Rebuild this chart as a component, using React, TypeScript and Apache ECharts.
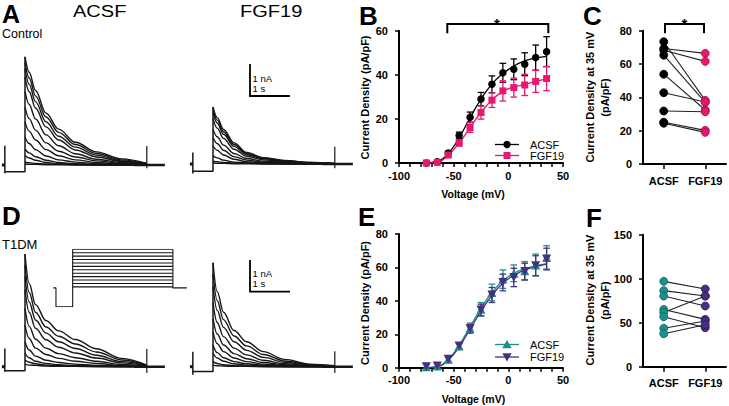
import React, { useEffect, useRef } from 'react';
import * as echarts from 'echarts';

const FONT = "'Liberation Sans', Arial, Helvetica, sans-serif";
const INK = '#161616';
const PINK = '#e8176f';
const TEAL = '#1d8f8b';
const PURPLE = '#46307f';

// ---------- Current traces (time in s, current in nA) ----------
const T = [0, 0.1, 0.25, 0.5, 0.8, 1.2, 1.7, 2.3, 2.9];

const A_ACSF_SWEEPS = [
  [3.38, 2.9, 2.33, 1.62, 1.12, 0.71, 0.41, 0.19, 0.05],
  [3.2, 2.72, 2.16, 1.5, 1.02, 0.64, 0.36, 0.16, 0.04],
  [3.0, 2.52, 1.98, 1.35, 0.9, 0.56, 0.31, 0.13, 0.04],
  [2.75, 2.29, 1.78, 1.19, 0.78, 0.47, 0.25, 0.11, 0.03],
  [2.3, 1.89, 1.44, 0.94, 0.6, 0.35, 0.18, 0.08, 0.02],
  [1.81, 1.45, 1.09, 0.69, 0.43, 0.25, 0.13, 0.05, 0.02],
  [1.34, 1.06, 0.78, 0.48, 0.29, 0.16, 0.08, 0.03, 0.01],
  [0.87, 0.67, 0.48, 0.28, 0.16, 0.09, 0.04, 0.02, 0.01],
  [0.5, 0.38, 0.26, 0.15, 0.08, 0.04, 0.02, 0.01, 0],
  [0.3, 0.22, 0.15, 0.08, 0.04, 0.02, 0.01, 0, 0],
  [0.1, 0.07, 0.05, 0.03, 0.02, 0.01, 0, 0, 0],
  [0.03, 0.02, 0.02, 0.01, 0.01, 0, 0, 0, 0],
];
const A_FGF_SWEEPS = [
  [1.78, 1.45, 1.08, 0.66, 0.36, 0.2, 0.11, 0.05, 0.02],
  [1.7, 1.37, 1.01, 0.61, 0.33, 0.18, 0.1, 0.05, 0.02],
  [1.6, 1.28, 0.93, 0.55, 0.29, 0.16, 0.08, 0.04, 0.01],
  [1.41, 1.12, 0.8, 0.46, 0.24, 0.13, 0.07, 0.03, 0.01],
  [1.09, 0.85, 0.59, 0.33, 0.17, 0.09, 0.05, 0.02, 0.01],
  [0.83, 0.64, 0.43, 0.23, 0.12, 0.06, 0.03, 0.01, 0],
  [0.57, 0.43, 0.28, 0.15, 0.07, 0.04, 0.02, 0.01, 0],
  [0.26, 0.19, 0.12, 0.06, 0.03, 0.02, 0.01, 0, 0],
  [0.1, 0.07, 0.05, 0.03, 0.02, 0.01, 0, 0, 0],
  [0.03, 0.02, 0.02, 0.01, 0.01, 0, 0, 0, 0],
];
const D_ACSF_SWEEPS = [
  [3.52, 2.6, 1.94, 1.44, 1.12, 0.85, 0.56, 0.26, 0.05],
  [3.18, 2.32, 1.7, 1.24, 0.95, 0.71, 0.46, 0.21, 0.04],
  [2.81, 2.02, 1.46, 1.05, 0.78, 0.57, 0.36, 0.16, 0.03],
  [2.4, 1.7, 1.2, 0.84, 0.61, 0.43, 0.27, 0.12, 0.03],
  [1.82, 1.26, 0.86, 0.58, 0.41, 0.28, 0.17, 0.07, 0.02],
  [1.3, 0.88, 0.58, 0.38, 0.26, 0.17, 0.1, 0.04, 0.01],
  [0.78, 0.52, 0.33, 0.2, 0.13, 0.08, 0.04, 0.02, 0.01],
  [0.42, 0.28, 0.17, 0.1, 0.06, 0.04, 0.02, 0.01, 0],
  [0.21, 0.14, 0.09, 0.05, 0.03, 0.02, 0.01, 0, 0],
  [0.08, 0.05, 0.04, 0.02, 0.01, 0.01, 0, 0, 0],
];
const D_FGF_SWEEPS = [
  [3.25, 2.35, 1.7, 1.13, 0.78, 0.47, 0.23, 0.08, 0.03],
  [2.9, 2.07, 1.47, 0.96, 0.65, 0.38, 0.18, 0.06, 0.02],
  [2.5, 1.76, 1.23, 0.78, 0.51, 0.29, 0.14, 0.05, 0.02],
  [2.0, 1.38, 0.94, 0.58, 0.37, 0.2, 0.09, 0.03, 0.01],
  [1.51, 1.02, 0.68, 0.41, 0.25, 0.13, 0.06, 0.02, 0.01],
  [1.09, 0.72, 0.47, 0.27, 0.16, 0.08, 0.04, 0.01, 0],
  [0.68, 0.44, 0.28, 0.16, 0.09, 0.05, 0.02, 0.01, 0],
  [0.42, 0.27, 0.17, 0.09, 0.05, 0.03, 0.01, 0, 0],
  [0.16, 0.1, 0.06, 0.03, 0.02, 0.01, 0, 0, 0],
  [0.05, 0.03, 0.02, 0.01, 0.01, 0, 0, 0, 0],
];
// [prepulse level, transient up, transient down, end transient up, end transient down] (nA)
const A_ACSF_STEPS = [-0.21, 0.6, -0.26, 0.59, -0.1];
const A_FGF_STEPS = [-0.23, 0.36, -0.3, 0.54, -0.13];
const D_ACSF_STEPS = [-0.125, 0.57, -0.16, 0.55, -0.2];
const D_FGF_STEPS = [-0.15, 0.47, -0.25, 0.48, -0.2];

// voltage protocol (mV)
const PROTO_HOLD = -78;
const PROTO_PRE = -133;
const PROTO_STEPS = [-75, -65, -55, -45, -35, -25, -15, -5, 5, 15, 25, 35];

// ---------- I-V curves ----------
const VOLT = [-75, -65, -55, -45, -35, -25, -15, -5, 5, 15, 25, 35];
const B_ACSF_MEAN = [0, 0.6, 4.5, 12.5, 20.8, 29, 35.7, 40.9, 42.5, 44.8, 47.8, 50.5];
const B_ACSF_SEM = [0.3, 0.4, 0.8, 1.5, 2.3, 3, 3.8, 4.3, 4.7, 5.2, 5.7, 6.8];
const B_FGF_MEAN = [0, 0.3, 3.6, 9, 16.1, 22.9, 28.5, 32.7, 34.2, 35.4, 37, 38.3];
const B_FGF_SEM = [0.2, 0.3, 0.7, 1.2, 2.2, 3, 3.3, 4.6, 4.3, 4.8, 5, 5.5];
const B_ACSF_FIT = [0, 0.8, 4.3, 11.5, 20.5, 29, 35.8, 40.5, 44, 46.3, 47.6, 48.4];
const B_FGF_FIT = [0, 0.3, 3.6, 9, 16.1, 22.9, 28.5, 32.5, 34.4, 35.6, 37, 38.3];

const E_ACSF_MEAN = [0.5, 1, 5, 13, 23.7, 35, 45, 53, 56.5, 58, 61.5, 66];
const E_ACSF_SEM = [2, 1.5, 1.5, 1.8, 3, 4, 5, 5.5, 5, 5.5, 6.5, 7];
const E_FGF_MEAN = [0.5, 1, 5, 13, 23.3, 34.5, 43.5, 51, 54, 57.5, 61, 65];
const E_FGF_SEM = [2, 1.5, 1.5, 1.8, 2.5, 3.5, 4.5, 5, 5.5, 5, 6, 6.5];
const E_ACSF_FIT = [0, 0.8, 5, 13.5, 24.5, 35.5, 45, 52, 56.5, 59.3, 61, 62.3];
const E_FGF_FIT = [0, 0.6, 4.5, 12.5, 23, 33.8, 43.3, 50.5, 55.2, 58.4, 60.5, 62];

// ---------- paired values at 35 mV ----------
const GROUPS = ['ACSF', 'FGF19'];
const C_ACSF = [73.4, 69.3, 68.3, 65.3, 53.9, 42.8, 31.8, 25.1, 24.5];
const C_FGF = [38.2, 66.4, 61.6, 37.0, 32.4, 37.2, 31.4, 20.2, 19.0];
const F_ACSF = [97, 86.4, 80.3, 65, 61.7, 56.8, 43.6, 37.5];
const F_FGF = [88.3, 80.3, 69, 53.8, 80.3, 44.3, 51.9, 47.7];

const zip = (xs: number[], ys: number[]) => xs.map((x, i) => [x, ys[i]]);

function traceSeries(gi: number, sweeps: number[][], steps: number[]) {
  const [pre, up1, dn1, up2, dn2] = steps;
  const peak = Math.max(...sweeps.map((s) => s[0]));
  const base = { type: 'line', xAxisIndex: gi, yAxisIndex: gi, symbol: 'none', silent: true };
  const out: any[] = [
    { ...base, data: [[-0.55, 0], [-0.48, 0]], lineStyle: { color: INK, width: 3 } },
    {
      ...base,
      data: [[-0.48, up1], [-0.48, dn1], [-0.48, pre], [0, pre], [0, peak]],
      lineStyle: { color: INK, width: 1.5 },
    },
  ];
  sweeps.forEach((s) => {
    out.push({
      ...base,
      data: zip(T, s),
      smooth: 0.35,
      smoothMonotone: 'x',
      lineStyle: { color: INK, width: 1.4 },
    });
  });
  out.push({ ...base, data: [[2.6, 0], [3.33, 0]], lineStyle: { color: INK, width: 2.6 } });
  out.push({ ...base, data: [[2.9, up2], [2.9, dn2]], lineStyle: { color: INK, width: 1.2 } });
  return out;
}

const errRender = (color: string) => (params: any, api: any) => {
  const x = api.value(0);
  const y = api.value(1);
  const e = api.value(2);
  const hi = api.coord([x, y + e]);
  const lo = api.coord([x, y - e]);
  const w = 3.3;
  const style = { stroke: color, lineWidth: 1.3 };
  return {
    type: 'group',
    children: [
      { type: 'line', shape: { x1: hi[0], y1: hi[1], x2: lo[0], y2: lo[1] }, style },
      { type: 'line', shape: { x1: hi[0] - w, y1: hi[1], x2: hi[0] + w, y2: hi[1] }, style },
      { type: 'line', shape: { x1: lo[0] - w, y1: lo[1], x2: lo[0] + w, y2: lo[1] }, style },
    ],
  };
};

function ivSeries(gi: number, mean: number[], sem: number[], fit: number[], color: string, symbol: string, size: number, rotate = 0) {
  return [
    {
      type: 'line', xAxisIndex: gi, yAxisIndex: gi, data: zip(VOLT, fit), smooth: true,
      symbol: 'none', lineStyle: { color, width: 1.3 }, z: 2, silent: true,
    },
    {
      type: 'custom', xAxisIndex: gi, yAxisIndex: gi, renderItem: errRender(color),
      data: VOLT.map((v, i) => [v, mean[i], sem[i]]), encode: { x: 0, y: 1 }, z: 3, silent: true,
    },
    {
      type: 'scatter', xAxisIndex: gi, yAxisIndex: gi, data: zip(VOLT, mean), symbol, symbolSize: size,
      symbolRotate: rotate, itemStyle: { color, opacity: 1 }, z: 4, clip: false, silent: true,
    },
  ];
}

function pairSeries(gi: number, a: number[], f: number[], ca: string, cf: string, ba: string, bf: string) {
  const out: any[] = a.map((v, i) => ({
    type: 'line', xAxisIndex: gi, yAxisIndex: gi, data: [v, f[i]], symbol: 'none',
    lineStyle: { color: '#222', width: 1.1 }, z: 2, silent: true,
  }));
  out.push({
    type: 'scatter', xAxisIndex: gi, yAxisIndex: gi, data: a.map((v) => [0, v]), symbolSize: 8,
    itemStyle: { color: ca, borderColor: ba, borderWidth: 0.8, opacity: 1 }, z: 3, clip: false, silent: true,
  });
  out.push({
    type: 'scatter', xAxisIndex: gi, yAxisIndex: gi, data: f.map((v) => [1, v]), symbolSize: 8,
    itemStyle: { color: cf, borderColor: bf, borderWidth: 0.8, opacity: 1 }, z: 3, clip: false, silent: true,
  });
  return out;
}

const axisLine = { show: true, onZero: false, lineStyle: { color: '#000', width: 2 } };
const axisTick = { show: true, length: 4, lineStyle: { color: '#000', width: 1.5 } };
const lab = (margin: number, extra: any = {}) => ({
  fontFamily: FONT, fontWeight: 'bold', fontSize: 11, color: '#000', margin, ...extra,
});

function hidden(gi: number, min: number, max: number) {
  return { gridIndex: gi, type: 'value', min, max, show: false, splitLine: { show: false } };
}

function txt(text: string, x: number, y: number, size: number, weight = 'normal', align = 'left', extra: any = {}) {
  const style: any = { text, fontSize: size, fontWeight: weight, fontFamily: FONT, fill: '#000', align, verticalAlign: 'middle' };
  return { type: 'text', x, y, silent: true, ...extra, style };
}

function buildOption() {
  const ivX = (gi: number) => ({
    gridIndex: gi, type: 'value', min: -100, max: 50, interval: 10,
    axisLine, axisTick, splitLine: { show: false },
    axisLabel: { ...lab(7), formatter: (v: number) => (v % 50 === 0 ? String(v) : '') },
  });
  const ivY = (gi: number, max: number, interval: number) => ({
    gridIndex: gi, type: 'value', min: 0, max, interval, axisLine, axisTick,
    splitLine: { show: false }, axisLabel: lab(11),
  });
  const catX = (gi: number) => ({
    gridIndex: gi, type: 'category', data: GROUPS, boundaryGap: true, axisLine,
    axisTick: { ...axisTick, alignWithLabel: true, length: 5 }, axisLabel: lab(11, { interval: 0 }),
  });

  const grid = [
    { left: 1.9, top: 49.8, width: 163.8, height: 128 },
    { left: 189.9, top: 48.8, width: 163.8, height: 128 },
    { left: 399, top: 30.7, width: 164, height: 132.3 },
    { left: 643, top: 30.7, width: 83, height: 133.3 },
    { left: 1.9, top: 251.5, width: 163.8, height: 128 },
    { left: 189.9, top: 251.5, width: 163.8, height: 128 },
    { left: 53.3, top: 249.3, width: 133.6, height: 57.4 },
    { left: 399, top: 234, width: 164, height: 133.7 },
    { left: 643, top: 234.7, width: 83, height: 132 },
  ];

  const xAxis = [
    hidden(0, -0.55, 3.35), hidden(1, -0.55, 3.35), ivX(2), catX(3),
    hidden(4, -0.55, 3.35), hidden(5, -0.55, 3.35), hidden(6, -0.08, 3.92), ivX(7), catX(8),
  ];
  const yAxis = [
    hidden(0, -0.4, 3.6), hidden(1, -0.4, 3.6), ivY(2, 60, 20), ivY(3, 80, 20),
    hidden(4, -0.4, 3.6), hidden(5, -0.4, 3.6), hidden(6, PROTO_PRE, 35), ivY(7, 80, 20), ivY(8, 150, 50),
  ];

  const protoBase = { type: 'line', xAxisIndex: 6, yAxisIndex: 6, symbol: 'none', silent: true, lineStyle: { color: INK, width: 1.1 } };
  const top = PROTO_STEPS[PROTO_STEPS.length - 1];
  const proto: any[] = [
    { ...protoBase, data: [[-0.08, PROTO_HOLD], [0, PROTO_HOLD], [0, PROTO_PRE], [0.5, PROTO_PRE], [0.5, top]] },
    ...PROTO_STEPS.map((v) => ({ ...protoBase, data: [[0.5, v], [3.5, v]] })),
    { ...protoBase, data: [[3.5, top], [3.5, PROTO_HOLD], [3.92, PROTO_HOLD]] },
  ];

  const series = [
    ...traceSeries(0, A_ACSF_SWEEPS, A_ACSF_STEPS),
    ...traceSeries(1, A_FGF_SWEEPS, A_FGF_STEPS),
    ...traceSeries(4, D_ACSF_SWEEPS, D_ACSF_STEPS),
    ...traceSeries(5, D_FGF_SWEEPS, D_FGF_STEPS),
    ...proto,
    ...ivSeries(2, B_ACSF_MEAN, B_ACSF_SEM, B_ACSF_FIT, '#000', 'circle', 7.5),
    ...ivSeries(2, B_FGF_MEAN, B_FGF_SEM, B_FGF_FIT, PINK, 'rect', 7),
    ...ivSeries(7, E_ACSF_MEAN, E_ACSF_SEM, E_ACSF_FIT, TEAL, 'triangle', 9),
    ...ivSeries(7, E_FGF_MEAN, E_FGF_SEM, E_FGF_FIT, PURPLE, 'triangle', 9, 180),
    ...pairSeries(3, C_ACSF, C_FGF, '#000', PINK, '#000', '#a0104c'),
    ...pairSeries(8, F_ACSF, F_FGF, TEAL, PURPLE, '#0e615e', '#2a1a5a'),
  ];

  const rot = { rotation: Math.PI / 2 };
  const line = (pts: number[][], w = 2) => ({
    type: 'polyline', silent: true, shape: { points: pts }, style: { stroke: '#000', lineWidth: w, fill: null },
  });
  const seg = (x1: number, y1: number, x2: number, y2: number, color: string, w = 1.3) => ({
    type: 'line', silent: true, shape: { x1, y1, x2, y2 }, style: { stroke: color, lineWidth: w },
  });

  const graphic: any[] = [
    // panel letters
    txt('A', 2, 13.5, 25, 'bold'),
    txt('B', 359, 15.5, 26, 'bold'),
    txt('C', 583, 15.5, 26, 'bold'),
    txt('D', 2, 216, 26, 'bold'),
    txt('E', 358, 217, 26, 'bold'),
    txt('F', 586, 218, 26, 'bold'),
    // headers
    txt('ACSF', 73, 11.5, 17, 'normal', 'left', { scaleX: 1.18 }),
    txt('FGF19', 240, 11.5, 17, 'normal', 'left', { scaleX: 1.18 }),
    txt('Control', 2, 33.5, 12.5),
    txt('T1DM', 2, 244, 13),
    // scale bars
    line([[250, 64], [250, 96], [290, 96]], 1.8),
    txt('1 nA', 252.5, 78.3, 9.5),
    txt('1 s', 252.5, 88.6, 9.5),
    line([[250, 260], [250, 291.7], [290, 291.7]], 1.8),
    txt('1 nA', 252.5, 273, 9.5),
    txt('1 s', 252.5, 283.2, 9.5),
    // significance brackets
    line([[447.3, 33.3], [447.3, 24], [548.3, 24], [548.3, 33.3]], 2),
    txt('*', 497, 23.5, 15, 'bold', 'center'),
    line([[665, 33.3], [665, 24], [704, 24], [704, 33.3]], 2),
    txt('*', 684.5, 23.5, 15, 'bold', 'center'),
    // axis titles
    txt('Current Density (pA/pF)', 365, 97.5, 11, 'bold', 'center', rot),
    txt('Voltage (mV)', 473, 193.5, 10.5, 'bold', 'center'),
    txt('Current Density (pA/pF)', 365, 303, 11, 'bold', 'center', rot),
    txt('Voltage (mV)', 473.5, 399, 10.5, 'bold', 'center'),
    txt('Current Density at 35 mV', 590, 97, 11, 'bold', 'center', rot),
    txt('(pA/pF)', 605, 97.5, 11, 'bold', 'center', rot),
    txt('Current Density at 35 mV', 590, 300, 11, 'bold', 'center', rot),
    txt('(pA/pF)', 605, 300.5, 11, 'bold', 'center', rot),
    // legend B
    seg(495, 144.5, 519, 144.5, '#000'),
    { type: 'circle', silent: true, shape: { cx: 507, cy: 144.5, r: 3.7 }, style: { fill: '#000' } },
    txt('ACSF', 530, 144.5, 11),
    seg(495, 155.5, 519, 155.5, PINK),
    { type: 'rect', silent: true, shape: { x: 503.5, y: 152, width: 7, height: 7 }, style: { fill: PINK } },
    txt('FGF19', 530, 155.5, 11),
    // legend E
    seg(495, 344.5, 519, 344.5, TEAL),
    { type: 'polygon', silent: true, shape: { points: [[507, 340], [502.3, 348.3], [511.7, 348.3]] }, style: { fill: TEAL } },
    txt('ACSF', 530, 344.5, 11),
    seg(495, 357, 519, 357, PURPLE),
    { type: 'polygon', silent: true, shape: { points: [[507, 361.5], [502.3, 353.2], [511.7, 353.2]] }, style: { fill: PURPLE } },
    txt('FGF19', 530, 357, 11),
  ];

  return {
    animation: false,
    backgroundColor: '#fff',
    textStyle: { fontFamily: FONT },
    grid,
    xAxis,
    yAxis,
    series,
    graphic,
  };
}

export default function App() {
  const ref = useRef<HTMLDivElement>(null);
  useEffect(() => {
    if (!ref.current) return;
    const chart = echarts.init(ref.current, null, { renderer: 'svg' });
    chart.setOption(buildOption() as any);
    return () => chart.dispose();
  }, []);
  return (
    <div
      ref={ref}
      style={{ position: 'absolute', left: 0, top: 0, width: 729, height: 406, background: '#fff' }}
    />
  );
}
